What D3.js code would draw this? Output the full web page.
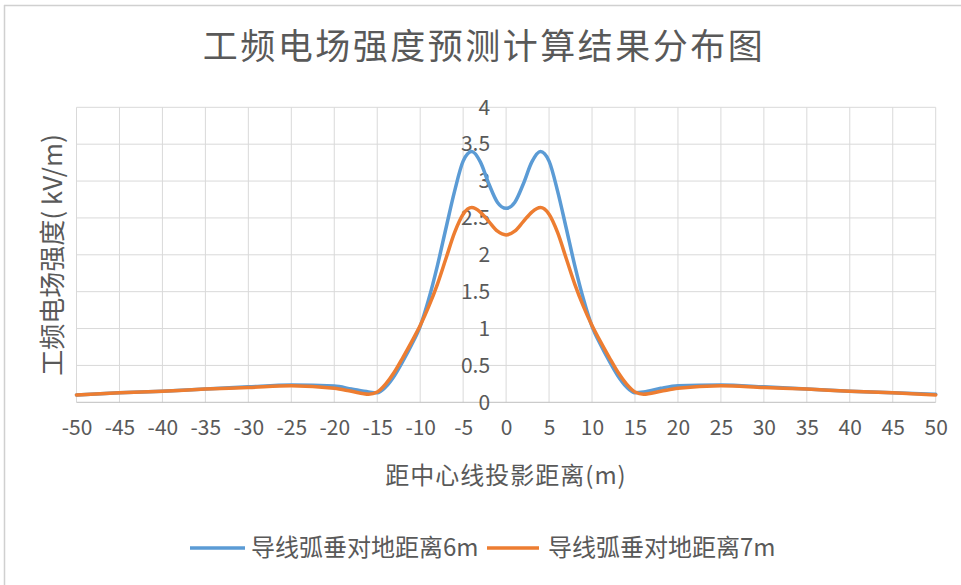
<!DOCTYPE html>
<html><head><meta charset="utf-8">
<script src="https://cdn.jsdelivr.net/npm/d3@7"></script>
<style>
html,body{margin:0;padding:0;background:#fff;}
text{font-family:"Noto Sans CJK SC","Open Sans",sans-serif;fill:#595959;}
</style></head>
<body>
<svg id="chart" width="961" height="585"></svg>
<script>
const title = "工频电场强度预测计算结果分布图";
const xTitle = "距中心线投影距离(m)";
const yTitle = "工频电场强度( kV/m)";
const seriesNames = ["导线弧垂对地距离6m", "导线弧垂对地距离7m"];
const seriesColors = ["#5B9BD5", "#ED7D31"];
const xTicks = [-50,-45,-40,-35,-30,-25,-20,-15,-10,-5,0,5,10,15,20,25,30,35,40,45,50];
const yTicks = [0,0.5,1,1.5,2,2.5,3,3.5,4];

const distances = [-50,-45,-40,-35,-30,-25,-20,-18,-16,-15,-14,-13,-12,-11,-10,-9,-8,-7,-6,-5,-4,-3,-2,-1,0,
  1,2,3,4,5,6,7,8,9,10,11,12,13,14,15,16,18,20,25,30,35,40,45,50];
const field6m = [0.10,0.13,0.15,0.18,0.21,0.235,0.22,0.18,0.14,0.13,0.21,0.36,0.56,0.78,1.03,1.40,1.85,2.36,2.86,3.27,3.40,3.26,2.96,2.71,2.63,
  2.71,2.96,3.26,3.40,3.27,2.86,2.36,1.85,1.40,1.03,0.78,0.56,0.36,0.21,0.13,0.14,0.19,0.225,0.235,0.21,0.18,0.15,0.13,0.11];
const field7m = [0.10,0.13,0.15,0.18,0.20,0.225,0.19,0.15,0.11,0.14,0.25,0.41,0.61,0.82,1.04,1.30,1.60,1.95,2.30,2.55,2.64,2.58,2.45,2.32,2.27,
  2.32,2.45,2.58,2.64,2.55,2.30,1.95,1.60,1.30,1.04,0.82,0.61,0.41,0.25,0.14,0.11,0.15,0.19,0.225,0.20,0.18,0.15,0.13,0.10];

const svg = d3.select("#chart");
const L = 76.5, R = 935.7, T = 107.3, B = 402.3;
const x = d3.scaleLinear().domain([-50,50]).range([L,R]);
const y = d3.scaleLinear().domain([0,4]).range([B,T]);

// outer frame
svg.append("line").attr("x1",4).attr("x2",961).attr("y1",5.5).attr("y2",5.5).attr("stroke","#d0d0d0").attr("stroke-width",1.5);
svg.append("line").attr("x1",4.5).attr("x2",4.5).attr("y1",5).attr("y2",585).attr("stroke","#d0d0d0").attr("stroke-width",1.5);

// title
svg.append("text").attr("x",484).attr("y",59).attr("text-anchor","middle")
  .style("font-size","35px").style("letter-spacing","2.5px").text(title);

// grid
const g = svg.append("g");
g.selectAll(".vg").data(xTicks).enter().append("line")
  .attr("x1",d=>x(d)).attr("x2",d=>x(d)).attr("y1",T).attr("y2",B)
  .attr("stroke","#d9d9d9").attr("stroke-width",1);
g.selectAll(".hg").data(yTicks).enter().append("line")
  .attr("x1",L).attr("x2",R).attr("y1",d=>y(d)).attr("y2",d=>y(d))
  .attr("stroke",d=>d===0?"#bfbfbf":"#d9d9d9").attr("stroke-width",1);

// x axis labels
const xAxis = d3.axisBottom(x).tickValues(xTicks).tickSize(0).tickPadding(0).tickFormat(d=>String(d));
const xa = svg.append("g").attr("transform",`translate(0,${B})`).call(xAxis);
xa.select(".domain").remove();
xa.selectAll("text").attr("y",26).attr("dy","0.32em").style("font-size","21px").style("fill","#595959")
  .style("font-family","\"Noto Sans CJK SC\",sans-serif");

// y axis labels at x=0
const yAxis = d3.axisLeft(y).tickValues(yTicks).tickSize(0).tickPadding(0).tickFormat(d=>String(d));
const ya = svg.append("g").attr("transform",`translate(${x(0)-16},0)`).call(yAxis);
ya.select(".domain").remove();
ya.selectAll("text").attr("x",0).style("font-size","21px").style("fill","#595959")
  .style("font-family","\"Noto Sans CJK SC\",sans-serif");

// lines
const line = d3.line().x((d,i)=>x(distances[i])).y(d=>y(d)).curve(d3.curveMonotoneX);
[field6m, field7m].forEach((s,k)=>{
  svg.append("path").datum(s).attr("d",line).attr("fill","none")
    .attr("stroke",seriesColors[k]).attr("stroke-width",3.5).attr("stroke-linejoin","round").attr("stroke-linecap","round");
});

// axis titles
svg.append("text").attr("x",506).attr("y",484).attr("text-anchor","middle")
  .style("font-size","24px").style("letter-spacing","1px").text(xTitle);
svg.append("text").attr("transform","translate(62,255) rotate(-90)").attr("text-anchor","middle")
  .style("font-size","26px").text(yTitle);

// legend
const lg = [{x1:190,x2:245,tx:251},{x1:487,x2:539,tx:548}];
lg.forEach((p,k)=>{
  svg.append("line").attr("x1",p.x1).attr("x2",p.x2).attr("y1",548).attr("y2",548)
    .attr("stroke",seriesColors[k]).attr("stroke-width",3.5);
  svg.append("text").attr("x",p.tx).attr("y",548).attr("dy","0.35em").style("font-size","24px").text(seriesNames[k]);
});
</script>
</body></html>
